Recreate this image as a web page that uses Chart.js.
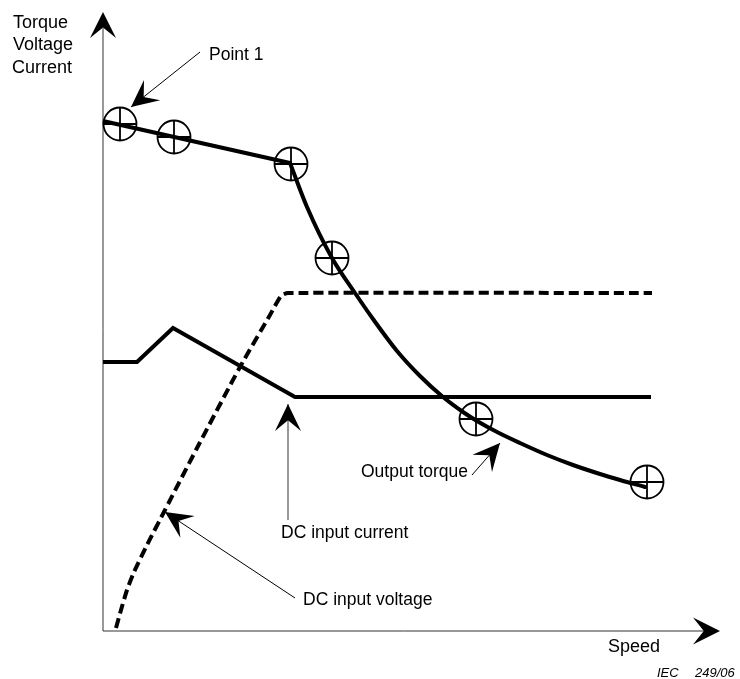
<!DOCTYPE html>
<html>
<head>
<meta charset="utf-8">
<script src="https://cdn.jsdelivr.net/npm/chart.js@4/dist/chart.umd.min.js"></script>
<style>
  html, body { margin: 0; padding: 0; background: #fff; }
  #wrap { width: 740px; height: 679px; }
</style>
</head>
<body>
<div id="wrap"><canvas id="chart" width="740" height="679"></canvas></div>
<script>
// unitless axes, both run 0..600 (figure has no ticks)
const torqueSpeed = [0, 187, 204, 229, 252, 270, 294, 317, 340, 360, 374, 394, 417, 444, 470, 497, 517, 542];
const torqueValue = [510, 468, 424, 373, 338, 312, 280, 255, 234, 219, 210, 199, 188, 176, 166, 157, 151, 144];

const pointSpeed = [17, 71, 188, 229, 373, 544];
const pointValue = [507, 494, 467, 373, 212, 149];

const currentSpeed = [0, 34, 70, 192, 548];
const currentValue = [269, 269, 303, 234, 234];

const voltageSpeed = [13, 18, 24, 31, 44, 62, 94, 137, 167, 178, 185, 549];
const voltageValue = [3, 21, 41, 59, 86, 121, 183, 264, 316, 335, 338, 338];

const pairs = (xs, ys) => xs.map((x, i) => ({ x: x, y: ys[i] }));

// callouts, in data units
const notes = [
    { text: 'Point 1', x: 106, y: 571, align: 'left', tail: [97, 579], tip: [28, 524], color: '#000', width: 1 },
    { text: 'Output torque', x: 365, y: 154, align: 'right', tail: [369, 156], tip: [397, 188], color: '#000', width: 1 },
    { text: 'DC input current', x: 178, y: 93, align: 'left', tail: [185, 111], tip: [185, 227], color: '#777', width: 1.5 },
    { text: 'DC input voltage', x: 200, y: 26, align: 'left', tail: [192, 33], tip: [62, 119], color: '#000', width: 1 }
];

const arrowHead = (ctx, tx, ty, fx, fy, len, half) => {
    const a = Math.atan2(ty - fy, tx - fx);
    const c = Math.cos(a), s = Math.sin(a);
    const bx = tx - c * len, by = ty - s * len;
    ctx.beginPath();
    ctx.moveTo(tx, ty);
    ctx.lineTo(bx - s * half, by + c * half);
    ctx.lineTo(tx - c * len * 0.6, ty - s * len * 0.6);
    ctx.lineTo(bx + s * half, by - c * half);
    ctx.closePath();
    ctx.fill();
};

const figurePlugin = {
    id: 'figure',
    beforeDatasetsDraw(chart) {
        const ctx = chart.ctx;
        const a = chart.chartArea;
        ctx.save();
        ctx.strokeStyle = '#333';
        ctx.fillStyle = '#000';
        ctx.lineWidth = 1;
        // y axis
        ctx.beginPath();
        ctx.moveTo(a.left, a.bottom);
        ctx.lineTo(a.left, a.top - 3);
        ctx.stroke();
        arrowHead(ctx, a.left, a.top - 19, a.left, a.bottom, 26, 13);
        // x axis
        ctx.beginPath();
        ctx.moveTo(a.left, a.bottom);
        ctx.lineTo(a.right + 1, a.bottom);
        ctx.stroke();
        arrowHead(ctx, a.right + 17, a.bottom, a.left, a.bottom, 27, 13.5);
        ctx.restore();
    },
    afterDraw(chart) {
        const ctx = chart.ctx;
        const a = chart.chartArea;
        const sx = chart.scales.x, sy = chart.scales.y;
        ctx.save();
        ctx.fillStyle = '#000';
        ctx.textBaseline = 'alphabetic';
        ctx.font = '18px "Liberation Sans", Arial, sans-serif';
        ctx.textAlign = 'left';
        ctx.fillText('Torque', 13, 28);
        ctx.fillText('Voltage', 13, 50);
        ctx.fillText('Current', 12, 73);
        ctx.fillText('Speed', 608, a.bottom + 21);
        ctx.font = 'italic 13px "Liberation Sans", Arial, sans-serif';
        ctx.fillText('IEC', 657, 677);
        ctx.fillText('249/06', 695, 677);

        notes.forEach(n => {
            const fx = sx.getPixelForValue(n.tail[0]), fy = sy.getPixelForValue(n.tail[1]);
            const tx = sx.getPixelForValue(n.tip[0]), ty = sy.getPixelForValue(n.tip[1]);
            ctx.strokeStyle = n.color;
            ctx.lineWidth = n.width;
            ctx.beginPath();
            ctx.moveTo(fx, fy);
            ctx.lineTo(tx, ty);
            ctx.stroke();
            ctx.fillStyle = '#000';
            arrowHead(ctx, tx, ty, fx, fy, 27, 13);
            ctx.font = '17.5px "Liberation Sans", Arial, sans-serif';
            ctx.textAlign = n.align;
            ctx.fillText(n.text, sx.getPixelForValue(n.x), sy.getPixelForValue(n.y));
        });
        ctx.restore();
    }
};

// torque: straight run up to point 3, then the falling curve
const torqueStraight = pairs(torqueSpeed.slice(0, 2), torqueValue.slice(0, 2));
const torqueCurve = pairs(torqueSpeed.slice(1), torqueValue.slice(1));

new Chart(document.getElementById('chart'), {
    type: 'scatter',
    data: {
        datasets: [
            {
                label: 'Output torque',
                data: torqueStraight,
                showLine: true, tension: 0,
                borderColor: '#000', borderWidth: 4, pointRadius: 0
            },
            {
                label: 'Output torque (curve)',
                data: torqueCurve,
                showLine: true, cubicInterpolationMode: 'monotone',
                borderColor: '#000', borderWidth: 4, pointRadius: 0, borderCapStyle: 'round'
            },
            {
                label: 'DC input current',
                data: pairs(currentSpeed, currentValue),
                showLine: true, tension: 0,
                borderColor: '#000', borderWidth: 4, pointRadius: 0
            },
            {
                label: 'DC input voltage',
                data: pairs(voltageSpeed, voltageValue),
                showLine: true, tension: 0.2,
                borderColor: '#000', borderWidth: 4, borderDash: [10, 5], pointRadius: 0
            },
            {
                label: 'Test points',
                data: pairs(pointSpeed, pointValue),
                showLine: false, pointStyle: 'circle', pointRadius: 16.5,
                pointBorderWidth: 1.8, pointBorderColor: '#000', pointBackgroundColor: 'rgba(0,0,0,0)'
            },
            {
                label: 'Test points cross',
                data: pairs(pointSpeed, pointValue),
                showLine: false, pointStyle: 'cross', pointRadius: 16.5,
                pointBorderWidth: 1.8, pointBorderColor: '#000'
            }
        ]
    },
    options: {
        responsive: false,
        animation: false,
        devicePixelRatio: 1,
        clip: false,
        layout: { padding: { left: 103, right: 37, top: 31, bottom: 48 } },
        scales: {
            x: { type: 'linear', min: 0, max: 600, display: false },
            y: { type: 'linear', min: 0, max: 600, display: false }
        },
        plugins: {
            legend: { display: false },
            tooltip: { enabled: false }
        }
    },
    plugins: [figurePlugin]
});
</script>
</body>
</html>
